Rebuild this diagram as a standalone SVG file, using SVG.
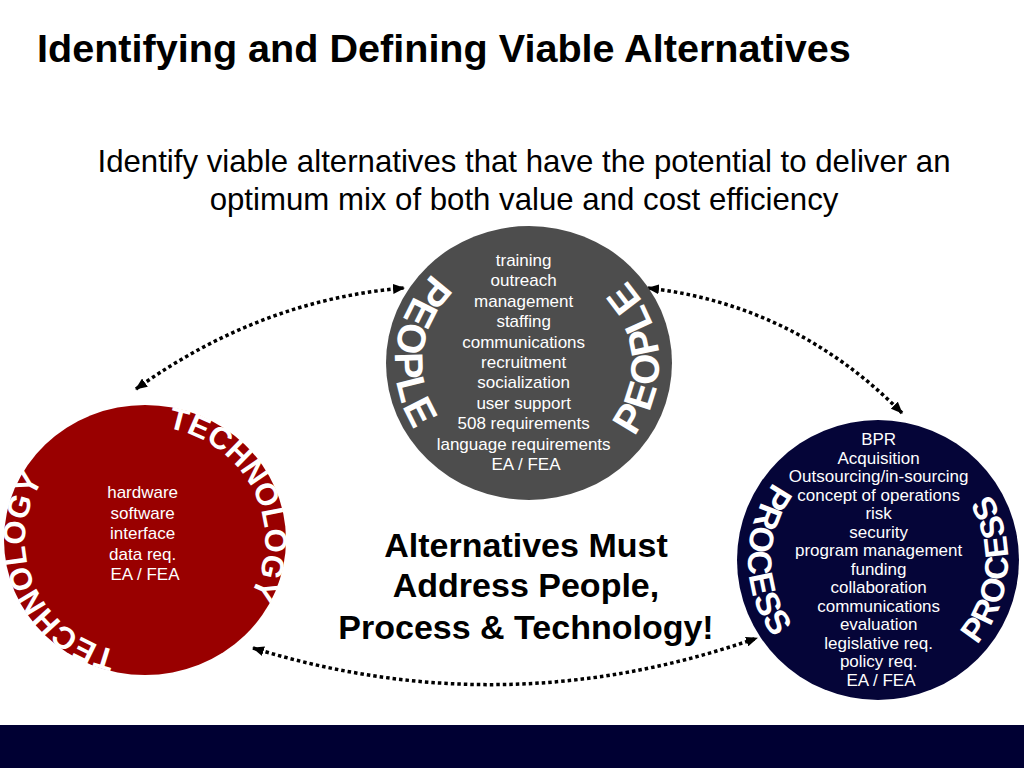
<svg xmlns="http://www.w3.org/2000/svg" width="1024" height="768" viewBox="0 0 1024 768">
<style>
.title{font-family:"Liberation Sans",Arial,sans-serif;font-weight:bold;font-size:39.6px;fill:#000}
.sub{font-family:"Liberation Sans",Arial,sans-serif;font-size:31.2px;fill:#000;text-anchor:middle}
.center{font-family:"Liberation Sans",Arial,sans-serif;font-weight:bold;font-size:34px;fill:#000;text-anchor:middle}
.list{font-family:"Liberation Sans",Arial,sans-serif;font-size:17px;fill:#fff;text-anchor:middle}
.arc{font-family:"Liberation Sans",Arial,sans-serif;font-weight:bold;fill:#fff}
.conn{fill:none;stroke:#000;stroke-width:3.5;stroke-dasharray:3.5 3;marker-start:url(#ah);marker-end:url(#ah)}
</style>
<defs>
<marker id="ah" viewBox="0 0 12 10" refX="11" refY="5" markerWidth="12" markerHeight="10" markerUnits="userSpaceOnUse" orient="auto-start-reverse">
<path d="M0,0 L12,5 L0,10 z" fill="#000"/>
</marker>
<path id="pL" d="M485.4,242 A134,128 0 0 0 460,472.7"/>
<path id="pR" d="M590,472.5 A130,124 0 0 0 577.7,248"/>
<path id="tR" d="M134.5,426.4 A120,114 0 0 1 229.9,620.6"/>
<path id="tL" d="M149.2,653.9 A120,114 0 0 1 64.7,455.3"/>
<path id="rL" d="M823.1,442.2 A130,130 0 0 0 823.1,677.8"/>
<path id="rR" d="M922.5,682.2 A130,130 0 0 0 943,447.4"/>
</defs>
<rect x="0" y="0" width="1024" height="768" fill="#fff"/>
<text class="title" x="37" y="62">Identifying and Defining Viable Alternatives</text>
<text class="sub" x="524" y="172">Identify viable alternatives that have the potential to deliver an</text>
<text class="sub" x="524" y="210">optimum mix of both value and cost efficiency</text>

<g id="connectors">
<path class="conn" d="M136,389 Q260,300 404,288"/>
<path class="conn" d="M648,288 Q795,305 902,413"/>
<path class="conn" d="M253,648 Q505,726 757,638"/>
</g>

<g id="people">
<ellipse cx="529" cy="363" rx="143" ry="137" fill="#4d4d4d"/>
<text class="arc" font-size="40" letter-spacing="1.5"><textPath href="#pL" startOffset="50%" text-anchor="middle">PEOPLE</textPath></text>
<text class="arc" font-size="40" letter-spacing="1.5"><textPath href="#pR" startOffset="50%" text-anchor="middle">PEOPLE</textPath></text>
<text class="list">
<tspan x="526" y="266">training</tspan>
<tspan x="526" y="286.4">outreach</tspan>
<tspan x="526" y="306.8">management</tspan>
<tspan x="526" y="327.2">staffing</tspan>
<tspan x="526" y="347.6">communications</tspan>
<tspan x="526" y="368">recruitment</tspan>
<tspan x="526" y="388.4">socialization</tspan>
<tspan x="526" y="408.8">user support</tspan>
<tspan x="526" y="429.2">508 requirements</tspan>
<tspan x="526" y="449.6">language requirements</tspan>
<tspan x="526" y="470">EA / FEA</tspan>
</text>
</g>

<g id="technology">
<ellipse cx="145" cy="540" rx="141" ry="135" fill="#990000"/>
<text class="arc" font-size="31"><textPath href="#tR" startOffset="50%" text-anchor="middle">TECHNOLOGY</textPath></text>
<text class="arc" font-size="31"><textPath href="#tL" startOffset="50%" text-anchor="middle">TECHNOLOGY</textPath></text>
<text class="list">
<tspan x="145" y="498">hardware</tspan>
<tspan x="145" y="518.5">software</tspan>
<tspan x="145" y="539">interface</tspan>
<tspan x="145" y="559.5">data req.</tspan>
<tspan x="145" y="580">EA / FEA</tspan>
</text>
</g>

<g id="process">
<ellipse cx="878" cy="560" rx="141" ry="140" fill="#050538"/>
<text class="list">
<tspan x="881" y="445">BPR</tspan>
<tspan x="881" y="463.5">Acquisition</tspan>
<tspan x="881" y="482">Outsourcing/in-sourcing</tspan>
<tspan x="881" y="500.5">concept of operations</tspan>
<tspan x="881" y="519">risk</tspan>
<tspan x="881" y="537.5">security</tspan>
<tspan x="881" y="556">program management</tspan>
<tspan x="881" y="574.5">funding</tspan>
<tspan x="881" y="593">collaboration</tspan>
<tspan x="881" y="611.5">communications</tspan>
<tspan x="881" y="630">evaluation</tspan>
<tspan x="881" y="648.5">legislative req.</tspan>
<tspan x="881" y="667">policy req.</tspan>
<tspan x="881" y="685.5">EA / FEA</tspan>
</text>
<text class="arc" font-size="34"><textPath href="#rL" startOffset="50%" text-anchor="middle">PROCESS</textPath></text>
<text class="arc" font-size="33"><textPath href="#rR" startOffset="50%" text-anchor="middle">PROCESS</textPath></text>
</g>

<g id="center-note">
<text class="center" x="526" y="557">Alternatives Must</text>
<text class="center" x="526" y="597">Address People,</text>
<text class="center" x="526" y="639">Process &amp; Technology!</text>
</g>

<rect x="0" y="725" width="1024" height="43" fill="#000033"/>
</svg>
